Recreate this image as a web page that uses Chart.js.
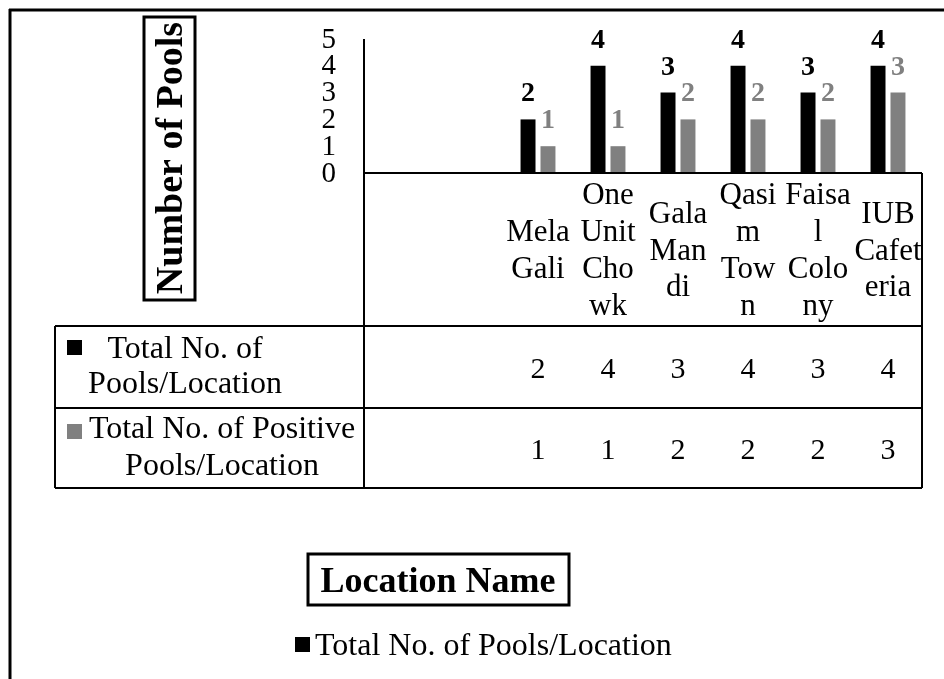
<!DOCTYPE html>
<html>
<head>
<meta charset="utf-8">
<script src="https://cdn.jsdelivr.net/npm/chart.js@4.4.1/dist/chart.umd.min.js"></script>
<style>
  html, body { margin: 0; padding: 0; background: #fff; }
  canvas { display: block; }
</style>
</head>
<body>
<canvas id="chart" width="944" height="679"></canvas>
<script>
// Pools sampled per location
const categories = ['Mela Gali', 'One Unit Chowk', 'Gala Mandi', 'Qasim Town', 'Faisal Colony', 'IUB Cafeteria'];
const totalPools = [2, 4, 3, 4, 3, 4];
const positivePools = [1, 1, 2, 2, 2, 3];
const yTicks = [0, 1, 2, 3, 4, 5];
const seriesNames = ['Total No. of Pools/Location', 'Total No. of Positive Pools/Location'];
const seriesColors = ['#000000', '#808080'];
const yTitle = 'Number of Pools';
const xTitle = 'Location Name';

const SERIF = '"Liberation Serif", "Times New Roman", serif';

// Greedy wrap; words wider than the cell are broken between characters
function wrapText(ctx, text, maxW) {
  const lines = [];
  let line = '';
  for (const word of text.split(' ')) {
    const trial = line ? line + ' ' + word : word;
    if (ctx.measureText(trial).width <= maxW) { line = trial; continue; }
    if (line) { lines.push(line); line = ''; }
    if (ctx.measureText(word).width <= maxW) { line = word; continue; }
    let piece = '';
    for (const ch of word) {
      if (ctx.measureText(piece + ch).width > maxW && piece) { lines.push(piece); piece = ch; }
      else piece += ch;
    }
    line = piece;
  }
  if (line) lines.push(line);
  return lines;
}

function hLine(ctx, x1, x2, y) { ctx.beginPath(); ctx.moveTo(x1, y); ctx.lineTo(x2, y); ctx.stroke(); }
function vLine(ctx, x, y1, y2) { ctx.beginPath(); ctx.moveTo(x, y1); ctx.lineTo(x, y2); ctx.stroke(); }

const tableChart = {
  id: 'tableChart',
  beforeDraw(chart) {
    const ctx = chart.ctx;
    ctx.save();
    ctx.fillStyle = '#fff';
    ctx.fillRect(0, 0, chart.width, chart.height);
    ctx.restore();
  },
  afterDatasetsDraw(chart) {
    const ctx = chart.ctx;
    ctx.save();
    ctx.textAlign = 'center';
    ctx.textBaseline = 'alphabetic';
    ctx.font = 'bold 28px ' + SERIF;
    chart.data.datasets.forEach((ds, di) => {
      const meta = chart.getDatasetMeta(di);
      ctx.fillStyle = ds.backgroundColor;
      meta.data.forEach((bar, i) => {
        ctx.fillText(String(ds.data[i]), bar.x, bar.y - 18);
      });
    });
    ctx.restore();
  },
  afterDraw(chart) {
    const ctx = chart.ctx;
    const xs = chart.scales.x, ys = chart.scales.y;
    const axisX = 364;
    const tblLeft = 55;
    const tblRight = xs.right - 1;
    const zeroY = ys.getPixelForValue(0);
    const tblTop = 326, rowDiv = 408, tblBottom = 488;
    ctx.save();

    // outer frame
    ctx.strokeStyle = '#000';
    ctx.lineWidth = 3;
    hLine(ctx, 9, chart.width, 10);
    vLine(ctx, 10, 9, chart.height);

    // axes and data table grid
    ctx.lineWidth = 2;
    vLine(ctx, axisX, ys.getPixelForValue(5), tblBottom);
    hLine(ctx, axisX, tblRight, zeroY);
    vLine(ctx, tblRight, zeroY, tblBottom);
    hLine(ctx, tblLeft, tblRight, tblTop);
    hLine(ctx, tblLeft, tblRight, rowDiv);
    hLine(ctx, tblLeft, tblRight, tblBottom);
    vLine(ctx, tblLeft, tblTop, tblBottom);

    // y tick labels
    ctx.fillStyle = '#000';
    ctx.font = '29px ' + SERIF;
    ctx.textAlign = 'right';
    ctx.textBaseline = 'middle';
    yTicks.forEach(v => ctx.fillText(String(v), 336, ys.getPixelForValue(v) + 1));

    // category names, wrapped inside each column
    ctx.font = '31px ' + SERIF;
    ctx.textAlign = 'center';
    ctx.textBaseline = 'alphabetic';
    const lineH = 36.7;
    const bandMid = (zeroY + tblTop) / 2 + 10;
    categories.forEach((name, i) => {
      const cx = xs.getPixelForValue(i);
      const lines = wrapText(ctx, name, 69);
      const first = bandMid - (lines.length - 1) * lineH / 2;
      lines.forEach((ln, k) => ctx.fillText(ln, cx, first + k * lineH));
    });

    // data table rows
    const rows = [
      { values: totalPools, color: seriesColors[0], mid: 185, base: [358, 393], key: 340, valBase: 378 },
      { values: positivePools, color: seriesColors[1], mid: 222, base: [438, 475], key: 424, valBase: 459 }
    ];
    rows.forEach((r, ri) => {
      ctx.fillStyle = r.color;
      ctx.fillRect(67, r.key, 15, 15);
      ctx.fillStyle = '#000';
      ctx.textAlign = 'center';
      ctx.font = '32px ' + SERIF;
      const lines = wrapText(ctx, seriesNames[ri], 275);
      lines.forEach((ln, k) => ctx.fillText(ln, r.mid, r.base[k]));
      ctx.font = '30px ' + SERIF;
      r.values.forEach((v, i) => ctx.fillText(String(v), xs.getPixelForValue(i), r.valBase));
    });

    // y axis title, boxed and rotated
    ctx.save();
    ctx.translate(170, 158);
    ctx.rotate(-Math.PI / 2);
    ctx.font = 'bold 38px ' + SERIF;
    ctx.textAlign = 'center';
    ctx.textBaseline = 'middle';
    ctx.fillText(yTitle, 0, 2);
    ctx.restore();
    ctx.lineWidth = 3;
    ctx.strokeRect(144, 17, 51, 283);

    // x axis title, boxed
    ctx.font = 'bold 36px ' + SERIF;
    ctx.textAlign = 'center';
    ctx.textBaseline = 'alphabetic';
    ctx.fillText(xTitle, 438, 592);
    ctx.strokeRect(308, 554, 261, 51);

    // legend (first series)
    ctx.fillStyle = seriesColors[0];
    ctx.fillRect(295, 637, 15, 15);
    ctx.fillStyle = '#000';
    ctx.font = '32px ' + SERIF;
    ctx.textAlign = 'left';
    ctx.fillText(seriesNames[0], 315, 655);

    ctx.restore();
  }
};

new Chart(document.getElementById('chart'), {
  type: 'bar',
  data: {
    labels: categories,
    datasets: [
      { label: seriesNames[0], data: totalPools, backgroundColor: seriesColors[0] },
      { label: seriesNames[1], data: positivePools, backgroundColor: seriesColors[1] }
    ]
  },
  options: {
    responsive: false,
    devicePixelRatio: 1,
    animation: false,
    layout: { padding: { left: 503, right: 21, top: 39, bottom: 506 } },
    datasets: { bar: { categoryPercentage: 0.57, barPercentage: 0.75 } },
    scales: {
      x: { display: false },
      y: { display: false, min: 0, max: 5 }
    },
    plugins: { legend: { display: false }, tooltip: { enabled: false } }
  },
  plugins: [tableChart]
});
</script>
</body>
</html>
